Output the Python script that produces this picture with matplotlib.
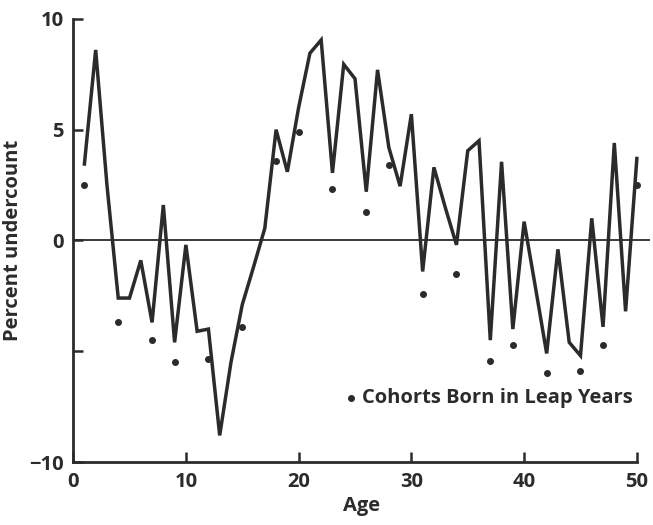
import numpy as np
import matplotlib.pyplot as plt

plt.rcParams['font.family'] = ['Open Sans', 'DejaVu Sans']
plt.rcParams['font.weight'] = 'bold'
plt.rcParams['axes.labelweight'] = 'bold'

# percent undercount by single year of age
ages = np.arange(1, 51)
undercount = [3.45, 8.6, 2.5, -2.6, -2.6, -0.9, -3.7, 1.6, -4.6, -0.2,
              -4.1, -4.0, -8.8, -5.5, -2.9, -1.2, 0.55, 5.0, 3.1, 6.0,
              8.45, 9.05, 3.05, 7.95, 7.3, 2.2, 7.7, 4.2, 2.45, 5.7,
              -1.4, 3.3, 1.5, -0.2, 4.05, 4.5, -4.5, 3.55, -4.0, 0.85,
              -2.1, -5.1, -0.4, -4.6, -5.2, 1.0, -3.9, 4.4, -3.2, 3.7]

# cohorts born in leap years
leap_ages = [1, 4, 7, 9, 12, 15, 18, 20, 23, 26, 28, 31, 34, 37, 39, 42, 45, 47, 50]
leap_values = [2.5, -3.7, -4.5, -5.5, -5.35, -3.9, 3.6, 4.9, 2.3, 1.3,
               3.4, -2.4, -1.5, -5.45, -4.7, -6.0, -5.9, -4.7, 2.5]

ink = '#2b2b2b'

fig = plt.figure(figsize=(6.53, 5.25), dpi=100)
ax = fig.add_axes([0.112, 0.12, 0.884, 0.844])

ax.axhline(0, color=ink, lw=1.3, zorder=1)
ax.plot(ages, undercount, color=ink, lw=2.5, solid_joinstyle='miter', zorder=2)
ax.scatter(leap_ages, leap_values, s=16, color=ink, zorder=3,
           label='Cohorts Born in Leap Years')

ax.set_xlim(0, 51.2)
ax.set_ylim(-10, 10)
ax.spines['top'].set_visible(False)
ax.spines['right'].set_visible(False)
ax.spines['bottom'].set_bounds(0, 50)
for s in ('left', 'bottom'):
    ax.spines[s].set_linewidth(2)
    ax.spines[s].set_color(ink)

ax.set_xticks([0, 10, 20, 30, 40, 50])
ax.set_yticks([-10, -5, 0, 5, 10], labels=['\u221210', '', '0', '5', '10'])
ax.tick_params(direction='in', length=7, width=1.8, colors=ink, labelsize=14.5)
ax.tick_params(axis='x', pad=7)
ax.tick_params(axis='y', pad=7)

ax.set_xlabel('Age', fontsize=14.5, labelpad=3, color=ink)
ax.set_ylabel('Percent undercount', fontsize=14.5, labelpad=4, color=ink)

ax.legend(loc='lower right', bbox_to_anchor=(1.0, 0.08), frameon=False,
          fontsize=14.5, handlelength=0.6, handletextpad=0.2,
          labelcolor=ink)

fig.savefig('out.png', dpi=100)
